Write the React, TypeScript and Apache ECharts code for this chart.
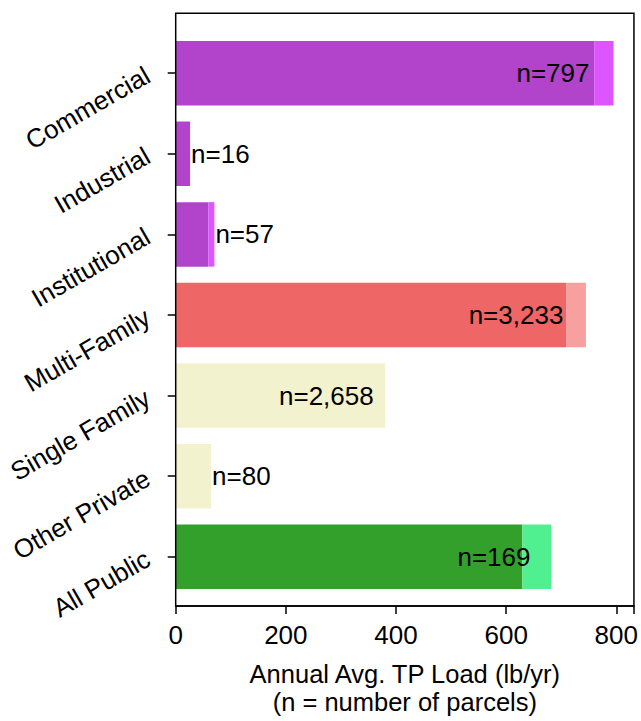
import React, { useEffect, useRef } from "react";
import * as echarts from "echarts";

const categories = [
  "Commercial",
  "Industrial",
  "Institutional",
  "Multi-Family",
  "Single Family",
  "Other Private",
  "All Public",
];
const baseLoad = [757, 26, 59, 706, 379, 64, 627];
const extraLoad = [35, 0, 11, 36, 0, 0, 52];
const parcelCounts = [797, 16, 57, 3233, 2658, 80, 169];
const baseColors = ["#B244CC", "#B244CC", "#B244CC", "#EE6666", "#F2F2CE", "#F2F2CE", "#33A02C"];
const extraColors = ["#DD55FF", "#DD55FF", "#DD55FF", "#F8A0A0", "#F2F2CE", "#F2F2CE", "#50F090"];
const xTickValues = [0, 200, 400, 600, 800];
const xMax = 832;

const FONT = "Liberation Sans, Arial, Helvetica, sans-serif";
const FS = 26;

export default function App() {
  const ref = useRef<HTMLDivElement>(null);
  useEffect(() => {
    if (!ref.current) return;
    const chart = echarts.init(ref.current, null, { renderer: "svg" });
    const totals = baseLoad.map((b, i) => b + extraLoad[i]);
    const labelData = categories.map((c, i) => {
      const inside = totals[i] > 300;
      return {
        value: [inside ? totals[i] * 0.945 : totals[i], c],
        label: {
          show: true,
          position: inside ? "left" : "right",
          distance: inside ? 0 : 1,
          formatter: "n=" + parcelCounts[i].toLocaleString("en-US"),
          color: "#000",
          fontSize: FS,
          fontFamily: FONT,
        },
      };
    });
    chart.setOption({
      animation: false,
      backgroundColor: "#fff",
      textStyle: { fontFamily: FONT },
      grid: [
        { left: 175.7, right: 5.3, top: 32.9, bottom: 123.9 },
        {
          left: 175.7,
          right: 5.3,
          top: 13.3,
          bottom: 105.3,
          show: true,
          borderColor: "#000",
          borderWidth: 1.5,
          backgroundColor: "transparent",
          z: 10,
        },
      ],
      xAxis: [
        { type: "value", gridIndex: 0, min: 0, max: xMax, show: false },
        {
          type: "value",
          gridIndex: 1,
          min: 0,
          max: xMax,
          interval: 200,
          z: 10,
          splitLine: { show: false },
          axisLine: { show: true, lineStyle: { color: "#000", width: 1.5 } },
          axisTick: { show: true, length: 8, lineStyle: { color: "#000", width: 1.5 } },
          axisLabel: {
            color: "#000",
            fontSize: FS,
            fontFamily: FONT,
            margin: 16,
            customValues: xTickValues,
            formatter: (v: number) => (xTickValues.includes(v) ? String(v) : ""),
          },
          name: "Annual Avg. TP Load (lb/yr)\n(n = number of parcels)",
          nameLocation: "middle",
          nameGap: 54,
          nameTextStyle: {
            color: "#000",
            fontSize: 25.5,
            fontFamily: FONT,
            lineHeight: 28,
            verticalAlign: "top",
          },
        },
      ],
      yAxis: [
        {
          type: "category",
          gridIndex: 0,
          data: categories,
          inverse: true,
          axisLine: { show: false },
          axisTick: {
            show: true,
            alignWithLabel: true,
            length: 8,
            lineStyle: { color: "#000", width: 1.5 },
          },
          axisLabel: {
            color: "#000",
            fontSize: FS,
            fontFamily: FONT,
            rotate: 30,
            margin: 28,
            interval: 0,
          },
          splitLine: { show: false },
        },
        { type: "value", gridIndex: 1, show: false },
      ],
      series: [
        {
          type: "bar",
          stack: "load",
          xAxisIndex: 0,
          yAxisIndex: 0,
          barWidth: "80%",
          data: baseLoad.map((v, i) => ({ value: v, itemStyle: { color: baseColors[i] } })),
        },
        {
          type: "bar",
          stack: "load",
          xAxisIndex: 0,
          yAxisIndex: 0,
          barWidth: "80%",
          data: extraLoad.map((v, i) => ({ value: v, itemStyle: { color: extraColors[i] } })),
        },
        {
          type: "scatter",
          xAxisIndex: 0,
          yAxisIndex: 0,
          symbolSize: 0,
          z: 5,
          itemStyle: { opacity: 1 },
          data: labelData,
        },
      ],
    });
    return () => chart.dispose();
  }, []);
  return (
    <div
      ref={ref}
      style={{ position: "fixed", left: 0, top: 0, width: 641, height: 721 }}
    />
  );
}
